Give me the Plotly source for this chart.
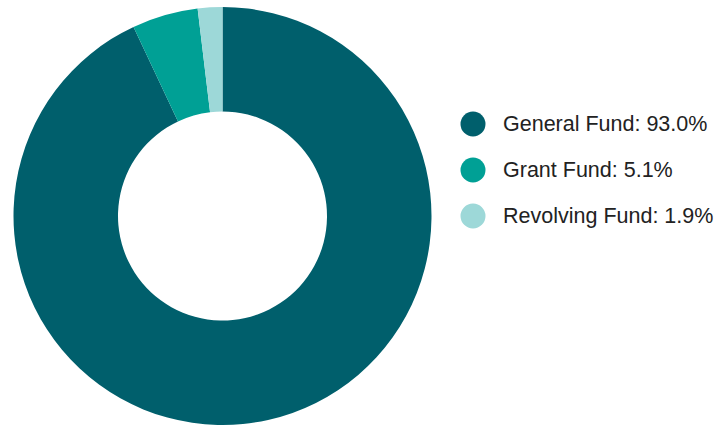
import plotly.graph_objects as go

labels = ["General Fund", "Grant Fund", "Revolving Fund"]
values = [93.0, 5.1, 1.9]
colors = ["#005F6C", "#00A095", "#9DD8D8"]

W, H = 718, 425
T = 7
PH = H - T
fig = go.Figure()
fig.add_trace(go.Pie(
    labels=labels, values=values, hole=0.5, sort=False, direction="clockwise",
    rotation=0, marker=dict(colors=colors, line=dict(width=0)),
    textinfo="none", hoverinfo="label+percent", showlegend=False,
    domain=dict(x=[12 / W, 433 / W], y=[0, 1]),
))


def py(ypix):
    return 1 - (ypix - T) / PH


shapes = []
annotations = []
cx, r = 473, 12.5
y0, dy = 124, 46
for i, (lab, val, col) in enumerate(zip(labels, values, colors)):
    yc = y0 + i * dy
    shapes.append(dict(type="circle", xref="paper", yref="paper",
                       x0=(cx - r) / W, x1=(cx + r) / W,
                       y0=py(yc + r), y1=py(yc - r),
                       fillcolor=col, line=dict(width=0)))
    annotations.append(dict(xref="paper", yref="paper", x=501 / W, y=py(yc),
                            xanchor="left", yanchor="middle", showarrow=False,
                            text=f"{lab}: {val:.1f}%",
                            font=dict(family="Liberation Sans, Arial", size=21.5, color="#222222")))

fig.update_layout(width=W, height=H, margin=dict(l=0, r=0, t=T, b=0),
                  paper_bgcolor="white", plot_bgcolor="white",
                  shapes=shapes, annotations=annotations)
fig.write_html("out.html")
